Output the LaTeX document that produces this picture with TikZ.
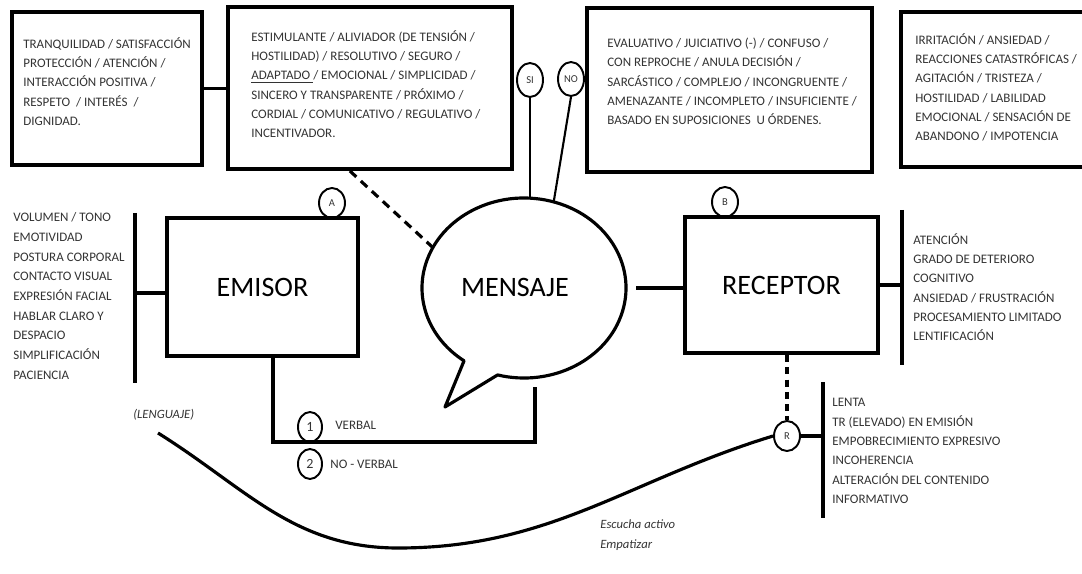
\documentclass[tikz,border=0pt]{standalone}
\usepackage{fontspec}
\setmainfont{Carlito}
\usetikzlibrary{calc,shapes.geometric}

\begin{document}
\begin{tikzpicture}[x=0.02cm, y=0.02cm,
    box/.style={draw, line width=2.2pt, inner sep=0pt},
    bigtext/.style={font=\fontsize{16}{19}\selectfont},
    list/.style={align=left, inner sep=0pt, text=black!80, font=\fontsize{7.4}{11}\selectfont},
    note/.style={list, font=\fontsize{7.2}{11}\selectfont\itshape},
    tag/.style={draw, ellipse, line width=1.1pt, inner sep=0pt, minimum width=0.52cm, minimum height=0.6cm, text=black!80, font=\fontsize{6}{6}\selectfont},
    bar/.style={line width=2pt},
    link/.style={line width=2pt}]

    % Size of the picture
    \useasboundingbox (0,0) rectangle (1082,-574);
    \clip (0,0) rectangle (1082,-574);

    % Boxes of the top row
    \node[box, minimum width=3.8cm, minimum height=3.06cm] (calm) at (107,-88.5) {};
    \node[box, minimum width=5.68cm, minimum height=3.24cm] (good) at (370,-88) {};
    \node[box, minimum width=5.7cm, minimum height=3.28cm] (bad) at (729.5,-90) {};
    \node[box, minimum width=3.82cm, minimum height=3.1cm] (upset) at (996.5,-89.5) {};

    % Texts of the top row
    \node[list, anchor=west] (calmtxt) at (23,-81.5) {TRANQUILIDAD / SATISFACCIÓN\\PROTECCIÓN / ATENCIÓN /\\INTERACCIÓN POSITIVA /\\RESPETO \ / INTERÉS \ /\\DIGNIDAD.};
    \node[list, anchor=west] (goodtxt) at (251,-84) {ESTIMULANTE / ALIVIADOR (DE TENSIÓN /\\HOSTILIDAD) / RESOLUTIVO / SEGURO /\\\underline{ADAPTADO }/ EMOCIONAL / SIMPLICIDAD /\\SINCERO Y TRANSPARENTE / PRÓXIMO /\\CORDIAL / COMUNICATIVO / REGULATIVO /\\INCENTIVADOR.};
    \node[list, anchor=west] (badtxt) at (607,-81.5) {EVALUATIVO / JUICIATIVO (-) / CONFUSO /\\CON REPROCHE / ANULA DECISIÓN /\\SARCÁSTICO / COMPLEJO / INCONGRUENTE /\\AMENAZANTE / INCOMPLETO / INSUFICIENTE /\\BASADO EN SUPOSICIONES \ U ÓRDENES.};
    \node[list, anchor=west] (upsettxt) at (915,-87.5) {IRRITACIÓN / ANSIEDAD /\\REACCIONES CATASTRÓFICAS /\\AGITACIÓN / TRISTEZA /\\HOSTILIDAD / LABILIDAD\\EMOCIONAL / SENSACIÓN DE\\ABANDONO / IMPOTENCIA};

    \draw[link] (calm.east) -- (calm.east -| good.west);

    % Sender, message and receiver
    \node[box, minimum width=3.82cm, minimum height=2.76cm, bigtext] (emi) at (262.5,-287) {EMISOR};
    \node[box, minimum width=3.86cm, minimum height=2.72cm, bigtext] (rec) at (781.5,-285) {RECEPTOR};
    \node[ellipse, minimum width=4.08cm, minimum height=3.6cm, inner sep=0pt] (msg) at (524,-288) {};
    \node[bigtext] (msgtxt) at (515,-287) {MENSAJE};

    % Speech bubble with its tail
    \draw[line width=1.8pt, line join=round] ($(msg.center)+(255:102 and 90)$)
        arc[start angle=255, end angle=594, x radius=102, y radius=90] -- (445,-407) -- cycle;

    % Small circles
    \node[tag, minimum height=0.68cm] (si) at (530,-80) {SI};
    \node[tag, minimum height=0.68cm] (no) at (571,-79) {NO};
    \node[tag] (a) at (332,-203) {A};
    \node[tag] (b) at (725,-202) {B};
    \node[tag] (r) at (787,-436) {R};
    \node[tag, minimum width=0.48cm, font=\fontsize{8}{8}\selectfont] (one) at (310,-427) {1};
    \node[tag, minimum width=0.48cm, font=\fontsize{8}{8}\selectfont] (two) at (310,-464) {2};

    \draw[line width=1.2pt] (si.south) -- (si.south |- msg.north);
    \draw[line width=1.2pt] (no.south) -- (msg.71);
    \draw[line width=1.8pt, dash pattern=on 5pt off 3.5pt] ($(good.south west)!0.43!(good.south east)$) -- (msg.156);
    \draw[link] ([xshift=0.2cm]msg.east) -- (msg.east -| rec.west);

    % Left list
    \coordinate (lbar) at (135,-293);
    \draw[bar] (135,-213) -- (135,-383);
    \draw[link] (lbar) -- (lbar -| emi.west);
    \node[list, anchor=west, font=\fontsize{7.4}{11.2}\selectfont] (emilist) at (13,-296) {VOLUMEN / TONO\\EMOTIVIDAD\\POSTURA CORPORAL\\CONTACTO VISUAL\\EXPRESIÓN FACIAL\\HABLAR CLARO Y\\DESPACIO\\SIMPLIFICACIÓN\\PACIENCIA};

    % Right list
    \coordinate (rbar) at (902,-285);
    \draw[bar] (902,-210) -- (902,-365);
    \draw[link] (rec.east) -- (rbar);
    \node[list, anchor=west] (reclist) at (913,-287) {ATENCIÓN\\GRADO DE DETERIORO\\COGNITIVO\\ANSIEDAD / FRUSTRACIÓN\\PROCESAMIENTO LIMITADO\\LENTIFICACIÓN};

    % Verbal and non verbal
    \coordinate (vl) at (273,-442);
    \coordinate (vr) at (535,-442);
    \coordinate (vt) at (535,-387);
    \draw[link] (vl |- emi.south) -- (vl) -- (vr) -- (vt);
    \node[list, anchor=west] (verbal) at (335,-425) {VERBAL};
    \node[list, anchor=west] (noverbal) at (330,-464) {NO - VERBAL};

    % Answer of the receiver
    \draw[line width=1.8pt, dash pattern=on 4pt off 3pt] (r.north |- rec.south) -- (r.north);
    \coordinate (rlist) at (823,-436);
    \draw[bar] (823,-382) -- (823,-518);
    \draw[link] (r.east) -- (rlist);
    \node[list, anchor=west] (anslist) at (832,-451) {LENTA\\TR (ELEVADO) EN EMISIÓN\\EMPOBRECIMIENTO EXPRESIVO\\INCOHERENCIA\\ALTERACIÓN DEL CONTENIDO\\INFORMATIVO};

    % Language curve
    \node[note, anchor=west] (lang) at (133,-415) {(LENGUAJE)};
    \node[note, anchor=west] (care) at (600,-535) {Escucha activo\\Empatizar};
    \draw[line width=1.8pt] (158,-433) to[out=-32, in=180] (398,-548) to[out=0, in=197] (r.west);
\end{tikzpicture}
\end{document}
